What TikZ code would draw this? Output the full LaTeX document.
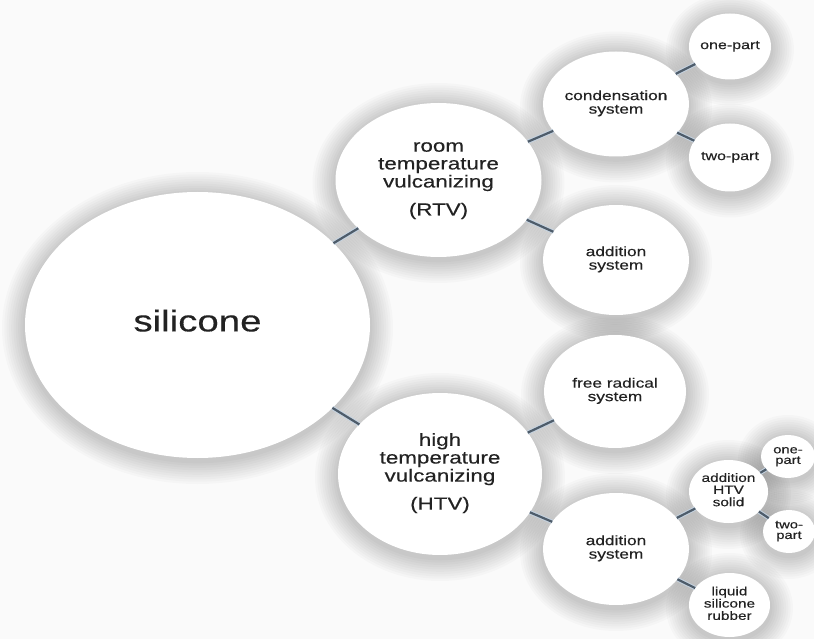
\documentclass[tikz,border=0pt]{standalone}
\usepackage{graphicx}
\usepackage{fontspec}
\setmainfont{Liberation Sans}
\newfontfamily\bubfont{Liberation Sans}[FakeBold=0.25]
\usetikzlibrary{shapes.geometric}
\pgfdeclarelayer{bg}
\pgfsetlayers{bg,main}
\definecolor{txt}{HTML}{222222}
\definecolor{linkc}{HTML}{4E5C6A}
\definecolor{halo}{HTML}{C4D2E0}
\definecolor{paper}{HTML}{FAFAFA}
\newcommand{\bubtext}[1]{\makebox[0pt]{\scalebox{1.28}[1]{\begin{tabular}{@{}c@{}}#1\end{tabular}}}}
\newcommand{\bub}[7]{%
  \begin{pgfonlayer}{bg}
    \foreach \i in {1,...,10} {\fill[black,opacity=0.021] (#2,#3+3) ellipse [x radius={#4+2.3*\i}, y radius={#5+2.3*\i}];}
  \end{pgfonlayer}
  \node[bubble, minimum width={2*#4}, minimum height={2*#5}] (#1) at (#2,#3) {\bubfont#6\bubtext{#7}};
}
\tikzset{
  bubble/.style={ellipse, fill=white, draw=none, inner sep=0pt, outer sep=0pt, text=txt},
  linkline/.style={draw=linkc, line width=2.2pt, preaction={draw=halo, line width=4.2pt}},
}
\begin{document}
\begin{tikzpicture}[x=1pt,y=-1pt]
\useasboundingbox (0,0) rectangle (814,639);
\begin{pgfonlayer}{bg}
  \fill[paper] (0,0) rectangle (814,639);
\end{pgfonlayer}
\bub{sil}{197.5}{325}{172.5}{133}{\fontsize{30}{32}\selectfont}{silicone}
\bub{rtv}{438.5}{180}{103}{77}{\fontsize{17.5}{17.8}\selectfont}{room\\temperature\\vulcanizing\\[10pt](RTV)}
\bub{htv}{440}{474}{102}{81}{\fontsize{17.5}{17.8}\selectfont}{high\\temperature\\vulcanizing\\[10pt](HTV)}
\bub{cond}{616}{104}{73}{52.5}{\fontsize{13.5}{13.5}\selectfont}{condensation\\system}
\bub{opa}{730}{46.5}{41}{33}{\fontsize{12.5}{13}\selectfont}{one-part}
\bub{tpa}{730}{157.5}{41}{34}{\fontsize{12.5}{13}\selectfont}{two-part}
\bub{addr}{616}{260}{73}{55}{\fontsize{13.5}{13.5}\selectfont}{addition\\system}
\bub{free}{615}{391.5}{71}{56.5}{\fontsize{13.5}{13.5}\selectfont}{free radical\\system}
\bub{addh}{616}{549}{73}{56}{\fontsize{13.5}{13.5}\selectfont}{addition\\system}
\bub{ahs}{728.5}{491.5}{39.5}{31.5}{\fontsize{12}{12}\selectfont}{addition\\HTV\\solid}
\bub{opb}{788}{456.5}{27}{21.5}{\fontsize{11.5}{10.5}\selectfont}{one-\\part}
\bub{tpb}{789}{531.5}{26}{21.5}{\fontsize{11.5}{10.5}\selectfont}{two-\\part}
\bub{lsr}{729.5}{605}{40.5}{32}{\fontsize{12}{12}\selectfont}{liquid\\silicone\\rubber}
\draw[linkline] (sil) -- (rtv);
\draw[linkline] (sil) -- (htv);
\draw[linkline] (rtv) -- (cond);
\draw[linkline] (rtv) -- (addr);
\draw[linkline] (cond) -- (opa);
\draw[linkline] (cond) -- (tpa);
\draw[linkline] (htv) -- (free);
\draw[linkline] (htv) -- (addh);
\draw[linkline] (addh) -- (ahs);
\draw[linkline] (addh) -- (lsr);
\draw[linkline] (ahs) -- (opb);
\draw[linkline] (ahs) -- (tpb);
\end{tikzpicture}
\end{document}
